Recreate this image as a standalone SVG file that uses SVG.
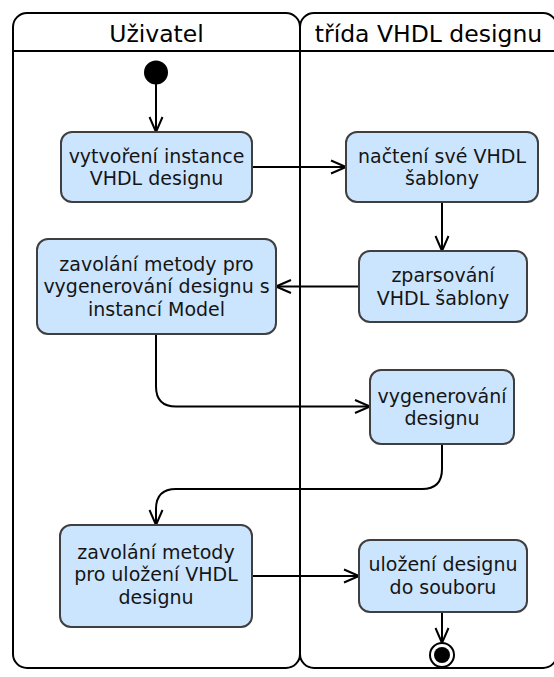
<svg xmlns="http://www.w3.org/2000/svg" width="554" height="677" viewBox="0 0 554 677">
  <style>
    .lane { fill: #ffffff; stroke: #000000; stroke-width: 2; }
    .head { font-family: "DejaVu Sans", Verdana, sans-serif; font-size: 23.5px; fill: #000000; text-anchor: middle; }
    .act rect { fill: #cce5ff; stroke: #3f3f3f; stroke-width: 2; }
    .act text { font-family: "DejaVu Sans", Verdana, sans-serif; font-size: 19px; fill: #151515; text-anchor: middle; }
    .edge { fill: none; stroke: #000000; stroke-width: 2; marker-end: url(#open); }
  </style>
  <defs>
    <!-- open V arrowhead -->
    <marker id="open" viewBox="0 0 18 16" refX="16.5" refY="8" markerWidth="18" markerHeight="16" orient="auto" markerUnits="userSpaceOnUse">
      <path d="M1.5,1.5 L16.5,8 L1.5,14.5" fill="none" stroke="#000000" stroke-width="2"/>
    </marker>
  </defs>

  <!-- swimlanes -->
  <g id="lanes">
    <rect class="lane" x="13" y="13" width="287" height="655" rx="14"/>
    <rect class="lane" x="300" y="13" width="257" height="655" rx="14"/>
    <line x1="13" y1="51" x2="557" y2="51" stroke="#000000" stroke-width="2"/>
    <text class="head" x="156.5" y="41.5">Uživatel</text>
    <text class="head" x="428.5" y="41.5">třída VHDL designu</text>
  </g>

  <!-- connectors -->
  <g id="connectors">
    <path class="edge" d="M156,84 L156,132"/>
    <path class="edge" d="M252,167 L346,167"/>
    <path class="edge" d="M442,202 L442,251"/>
    <path class="edge" d="M359,286.5 L276,286.5"/>
    <path class="edge" d="M156,334 L156,386.5 Q156,406.5 176,406.5 L370,406.5"/>
    <path class="edge" d="M442,443 L442,469 Q442,489 422,489 L176,489 Q156,489 156,509 L156,525"/>
    <path class="edge" d="M252,576 L359,576"/>
    <path class="edge" d="M442,612 L442,643"/>
  </g>

  <!-- start / end -->
  <g id="start">
    <circle cx="156" cy="72.5" r="12" fill="#000000"/>
  </g>
  <g id="end">
    <circle cx="442" cy="655" r="12" fill="#ffffff" stroke="#000000" stroke-width="2"/>
    <circle cx="442" cy="655" r="8" fill="#000000"/>
  </g>

  <!-- activities -->
  <g id="vytvoreni" class="act">
    <rect x="61" y="132" width="191" height="70" rx="11"/>
    <text x="156.5" y="162.7">vytvoření instance</text>
    <text x="156.5" y="185.2">VHDL designu</text>
  </g>
  <g id="nacteni" class="act">
    <rect x="346" y="132" width="192" height="70" rx="11"/>
    <text x="442" y="162.7">načtení své VHDL</text>
    <text x="442" y="185.2">šablony</text>
  </g>
  <g id="zparsovani" class="act">
    <rect x="359" y="251" width="168" height="71" rx="11"/>
    <text x="443" y="282">zparsování</text>
    <text x="443" y="304.5">VHDL šablony</text>
  </g>
  <g id="zavolani-generovani" class="act">
    <rect x="37" y="239" width="239" height="95" rx="11"/>
    <text x="156.5" y="270.7">zavolání metody pro</text>
    <text x="156.5" y="293.2">vygenerování designu s</text>
    <text x="156.5" y="315.7">instancí Model</text>
  </g>
  <g id="vygenerovani" class="act">
    <rect x="370" y="370" width="144" height="74" rx="11"/>
    <text x="442" y="402.5">vygenerování</text>
    <text x="442" y="425">designu</text>
  </g>
  <g id="zavolani-ulozeni" class="act">
    <rect x="60" y="525" width="192" height="102" rx="11"/>
    <text x="156" y="558.5">zavolání metody</text>
    <text x="156" y="581">pro uložení VHDL</text>
    <text x="156" y="603.5">designu</text>
  </g>
  <g id="ulozeni" class="act">
    <rect x="359" y="540" width="168" height="72" rx="11"/>
    <text x="443" y="571">uložení designu</text>
    <text x="443" y="593.5">do souboru</text>
  </g>
</svg>
